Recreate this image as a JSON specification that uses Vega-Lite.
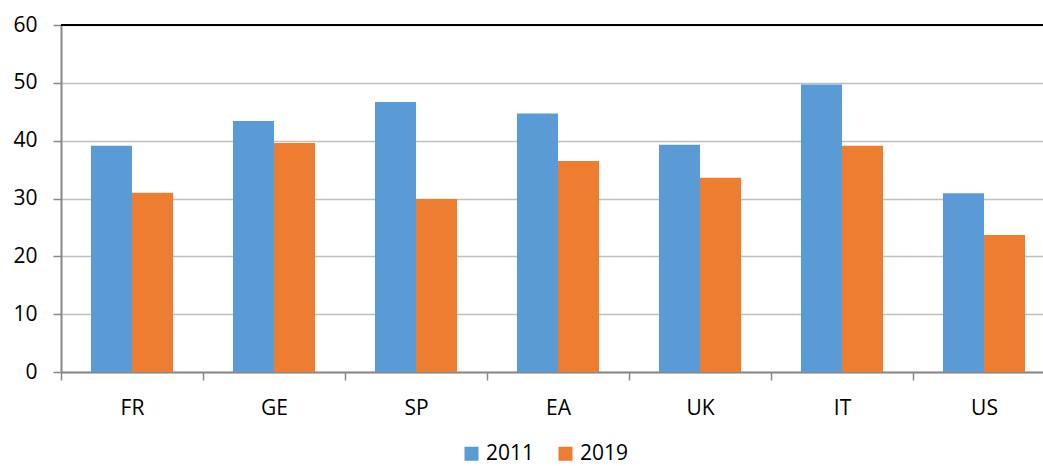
{
  "$schema": "https://vega.github.io/schema/vega-lite/v6.json",
  "width": 994,
  "height": 347,
  "autosize": {"type": "none"},
  "padding": {"left": 61, "top": 25, "right": -12, "bottom": 94},
  "background": "white",
  "config": {
    "view": {"stroke": null},
    "font": "Open Sans"
  },
  "data": {
    "values": [
      {"country": "FR", "year": "2011", "value": 39.1},
      {"country": "FR", "year": "2019", "value": 31.0},
      {"country": "GE", "year": "2011", "value": 43.4},
      {"country": "GE", "year": "2019", "value": 39.6},
      {"country": "SP", "year": "2011", "value": 46.7},
      {"country": "SP", "year": "2019", "value": 29.9},
      {"country": "EA", "year": "2011", "value": 44.7},
      {"country": "EA", "year": "2019", "value": 36.5},
      {"country": "UK", "year": "2011", "value": 39.3},
      {"country": "UK", "year": "2019", "value": 33.6},
      {"country": "IT", "year": "2011", "value": 49.7},
      {"country": "IT", "year": "2019", "value": 39.1},
      {"country": "US", "year": "2011", "value": 30.9},
      {"country": "US", "year": "2019", "value": 23.7}
    ]
  },
  "layer": [
    {
      "mark": {"type": "bar"},
      "encoding": {
        "x": {
          "field": "country",
          "type": "nominal",
          "sort": ["FR", "GE", "SP", "EA", "UK", "IT", "US"],
          "scale": {"paddingInner": 0, "paddingOuter": 0},
          "axis": {
            "title": null,
            "labelAngle": 0,
            "labelFontSize": 21,
            "labelColor": "#000000",
            "labelPadding": 17,
            "tickBand": "extent",
            "tickSize": 8,
            "tickColor": "#888888",
            "tickWidth": 1.5,
            "domainColor": "#888888",
            "domainWidth": 2
          }
        },
        "xOffset": {
          "field": "year",
          "type": "nominal",
          "scale": {"paddingInner": 0, "paddingOuter": 0.73}
        },
        "y": {
          "field": "value",
          "type": "quantitative",
          "scale": {"domain": [0, 60]},
          "axis": {
            "title": null,
            "values": [0, 10, 20, 30, 40, 50, 60],
            "labelFontSize": 21,
            "labelColor": "#000000",
            "labelPadding": 16,
            "tickSize": 8,
            "tickColor": "#888888",
            "tickWidth": 1.5,
            "domainColor": "#888888",
            "domainWidth": 2,
            "gridColor": "#bfbfbf",
            "gridWidth": 1.5
          }
        },
        "color": {
          "field": "year",
          "type": "nominal",
          "scale": {"domain": ["2011", "2019"], "range": ["#5B9BD5", "#ED7D31"]},
          "legend": {
            "title": null,
            "orient": "none",
            "legendX": 400,
            "legendY": 418,
            "direction": "horizontal",
            "labelFontSize": 21,
            "labelColor": "#000000",
            "labelOffset": 4,
            "symbolType": "square",
            "symbolSize": 196,
            "symbolStrokeWidth": 0,
            "columnPadding": 20
          }
        }
      }
    },
    {
      "mark": {"type": "rule", "color": "#000000", "strokeWidth": 2},
      "data": {"values": [{"top": 60}]},
      "encoding": {"y": {"field": "top", "type": "quantitative"}}
    }
  ]
}
